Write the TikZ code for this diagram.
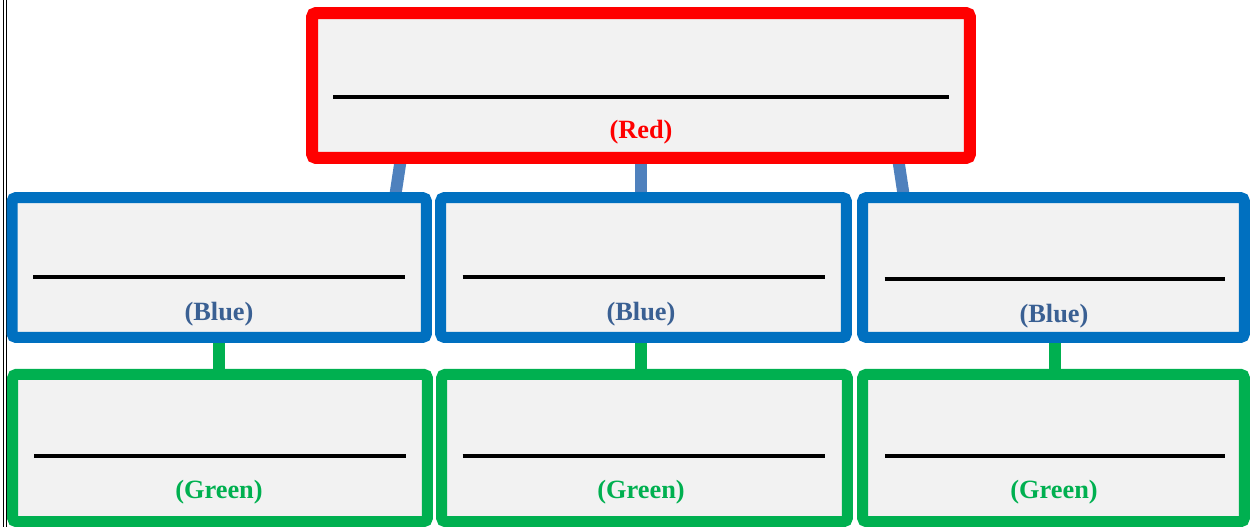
\documentclass[tikz,border=0pt]{standalone}
\usepackage{fontspec}
\setmainfont{Liberation Serif}
\usetikzlibrary{positioning,calc,backgrounds}

\definecolor{boxfill}{HTML}{F2F2F2}
\definecolor{redline}{HTML}{FF0000}
\definecolor{blueline}{HTML}{0070C0}
\definecolor{greenline}{HTML}{00B050}
\definecolor{linkblue}{HTML}{4F81BD}
\definecolor{bluetext}{RGB}{58,96,147}

\tikzset{
  box/.style={draw, fill=boxfill, rounded corners=0.8mm, inner sep=0pt, outer sep=0pt},
  redbox/.style={box, draw=redline, line width=0.24cm, minimum height=2.9cm},
  bluebox/.style={box, draw=blueline, line width=0.22cm, minimum height=2.8cm},
  greenbox/.style={box, draw=greenline, line width=0.22cm, minimum height=2.95cm},
  link/.style={line width=0.24cm},
  blank/.style={line width=0.07cm, black},
  lab/.style={font=\fontsize{15}{18}\selectfont\bfseries, inner sep=0pt}
}

\begin{document}
\begin{tikzpicture}[x=0.02cm, y=-0.02cm]
\useasboundingbox (0,0) rectangle (1250,527);

% page border on the left
\draw[line width=0.5pt] (3.5,0) -- (3.5,527);
\draw[line width=0.5pt] (6.5,0) -- (6.5,527);

% boxes
\node[redbox, minimum width=13.16cm] (red) at (641,85.5) {};

\node[bluebox, minimum width=8.29cm] (blueA) at (219.25,267.5) {};
\node[bluebox, minimum width=8.12cm] (blueB) at (643.5,267.5) {};
\node[bluebox, minimum width=7.64cm] (blueC) at (1053.5,267.5) {};

\node[greenbox, minimum width=8.3cm] (greenA) at (220,448) {};
\node[greenbox, minimum width=8.12cm] (greenB) at (644.5,448) {};
\node[greenbox, minimum width=7.64cm] (greenC) at (1053.5,448) {};

% connectors
\begin{scope}[on background layer]
\draw[link, linkblue] ($(red.south)+(-240,0)$) -- ($(blueA.north)+(175.75,0)$);
\draw[link, linkblue] (red.south) -- ($(blueB.north)+(-2.5,0)$);
\draw[link, linkblue] ($(red.south)+(257,0)$) -- ($(blueC.north)+(-149.5,0)$);

\draw[link, greenline] (blueA.south) -- (blueA.south |- greenA.north);
\draw[link, greenline] ($(blueB.south)+(-2.5,0)$) -- ($(greenB.north)+(-3.5,0)$);
\draw[link, greenline] ($(blueC.south)+(1.5,0)$) -- ($(greenC.north)+(1.5,0)$);
\end{scope}

% blank lines
\draw[blank] ($(red.west)+(21,11.5)$) -- ($(red.east)+(-21,11.5)$);
\draw[blank] ($(blueA.west)+(21,9.5)$) -- ($(blueA.east)+(-21,9.5)$);
\draw[blank] ($(blueB.west)+(22,9.5)$) -- ($(blueB.east)+(-21,9.5)$);
\draw[blank] ($(blueC.west)+(22,11.5)$) -- ($(blueC.east)+(-19.5,11.5)$);
\draw[blank] ($(greenA.west)+(21.5,8)$) -- ($(greenA.east)+(-21.5,8)$);
\draw[blank] ($(greenB.west)+(21,8)$) -- ($(greenB.east)+(-22,8)$);
\draw[blank] ($(greenC.west)+(22.5,8)$) -- ($(greenC.east)+(-19.5,8)$);

% labels
\node[lab, text=redline] (redtxt) at (641,132) {(Red)};
\node[lab, text=bluetext] (bluetxtA) at (219,314) {(Blue)};
\node[lab, text=bluetext] (bluetxtB) at (641,314) {(Blue)};
\node[lab, text=bluetext] (bluetxtC) at (1054,316) {(Blue)};
\node[lab, text=greenline] (greentxtA) at (219,492) {(Green)};
\node[lab, text=greenline] (greentxtB) at (641,492) {(Green)};
\node[lab, text=greenline] (greentxtC) at (1054,492) {(Green)};

\end{tikzpicture}
\end{document}
